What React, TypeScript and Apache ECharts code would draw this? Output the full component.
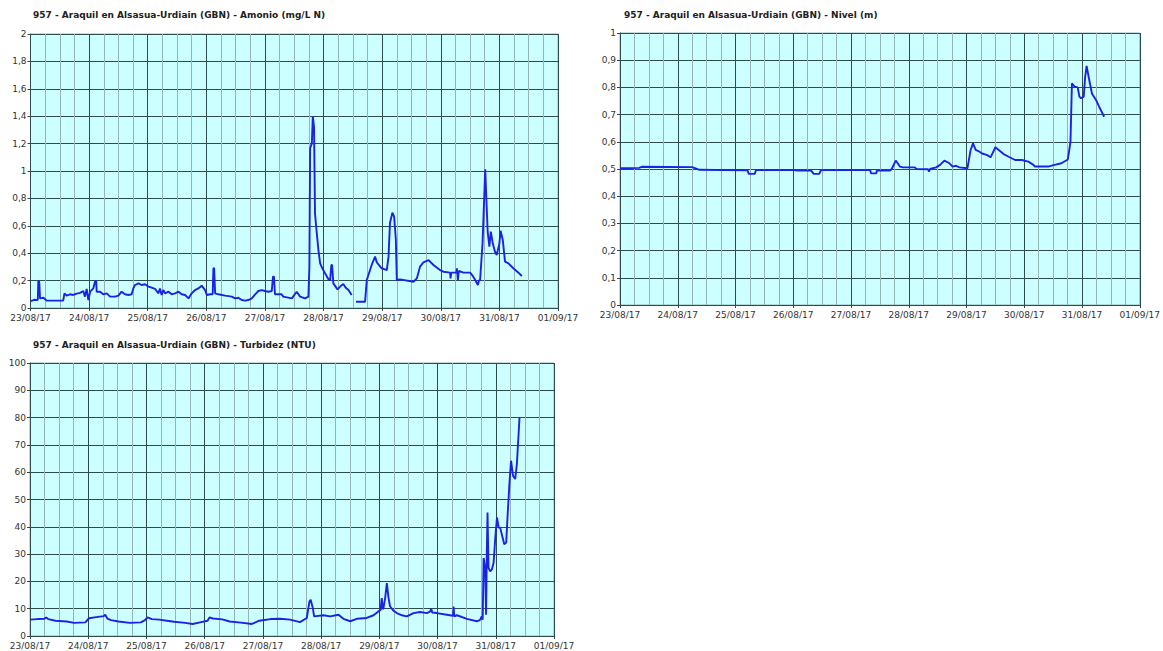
import React, { useEffect, useRef } from "react";
import * as echarts from "echarts";

// Tick labels (one per day, x values are hours since 23/08/17 00:00)
const DAY_LABELS = ["23/08/17", "24/08/17", "25/08/17", "26/08/17", "27/08/17", "28/08/17", "29/08/17", "30/08/17", "31/08/17", "01/09/17"];

const TITLES = [
  "957 - Araquil en Alsasua-Urdiain (GBN) - Amonio (mg/L N)",
  "957 - Araquil en Alsasua-Urdiain (GBN) - Nivel (m)",
  "957 - Araquil en Alsasua-Urdiain (GBN) - Turbidez (NTU)",
];

// Amonio (mg/L N): [hour, value]
const AMONIO: (number | string)[][] = [
  [0, 0.05], [1.5, 0.06], [2.5, 0.058], [3.0, 0.06], [3.2, 0.197], [3.6, 0.19], [3.9, 0.07], [5.3, 0.075], [6.6, 0.054], [13.4, 0.054],
  [13.9, 0.107], [14.8, 0.09], [16.2, 0.1], [17.5, 0.095], [18.9, 0.105], [20.3, 0.11], [21.6, 0.124], [22.3, 0.083], [23.0, 0.139], [23.7, 0.058],
  [24.4, 0.119], [25.7, 0.143], [26.5, 0.197], [26.9, 0.197], [27.1, 0.119], [28.5, 0.119], [29.8, 0.1], [31.2, 0.107], [32.6, 0.083], [34.6, 0.083],
  [36.0, 0.09], [37.3, 0.119], [38.7, 0.1], [40.1, 0.095], [41.4, 0.1], [42.1, 0.143], [42.8, 0.168], [44.2, 0.18], [45.5, 0.168], [46.9, 0.173],
  [48.3, 0.156], [49.6, 0.148], [51.0, 0.139], [52.4, 0.107], [53.0, 0.143], [53.7, 0.095], [54.4, 0.131], [55.1, 0.107], [56.5, 0.119], [57.8, 0.1],
  [59.2, 0.107], [60.6, 0.119], [61.9, 0.1], [63.3, 0.095], [64.7, 0.07], [66.0, 0.107], [67.4, 0.131], [68.7, 0.143], [70.1, 0.163], [71.5, 0.131],
  [72.2, 0.095], [73.5, 0.1], [74.6, 0.1], [74.9, 0.29], [75.2, 0.29], [75.6, 0.107], [76.9, 0.1], [79.7, 0.09], [82.4, 0.083], [83.8, 0.07],
  [85.1, 0.075], [86.5, 0.058], [87.9, 0.054], [89.2, 0.058], [90.6, 0.07], [92.0, 0.1], [93.3, 0.124], [94.7, 0.131], [96.0, 0.124], [97.4, 0.119],
  [98.8, 0.124], [99.3, 0.229], [99.7, 0.229], [100.1, 0.1], [102.8, 0.1], [103.5, 0.083], [107, 0.07], [109, 0.119], [110.4, 0.083], [112.4, 0.07],
  [113.8, 0.083], [114.2, 0.3], [114.5, 1.166], [115.2, 1.2], [115.6, 1.4], [116.1, 1.32], [116.5, 0.69], [117.2, 0.55], [117.9, 0.423], [118.6, 0.326],
  [119.5, 0.29], [120.6, 0.253], [122.0, 0.21], [122.7, 0.204], [123.2, 0.314], [123.5, 0.314], [124.0, 0.18], [125.7, 0.136], [127, 0.16], [128.1, 0.175],
  [129, 0.15], [130.2, 0.131], [131.5, 0.095], [132.3, "-"], [133.3, 0.046], [137.0, 0.046], [137.7, 0.204], [139.7, 0.314], [141.1, 0.375], [141.8, 0.333],
  [143.8, 0.29], [145.9, 0.277], [146.6, 0.375], [147.2, 0.62], [148.2, 0.696], [148.9, 0.667], [149.6, 0.5], [150.0, 0.204], [151.3, 0.209], [156.8, 0.192],
  [158.2, 0.216], [159.5, 0.302], [160.9, 0.333], [163.0, 0.35], [165.0, 0.314], [167.7, 0.277], [169.1, 0.265], [171.8, 0.258], [172.0, 0.216], [172.3, 0.258],
  [174.4, 0.258], [174.6, 0.29], [175.0, 0.204], [175.4, 0.27], [177.3, 0.258], [180.0, 0.258], [181.1, 0.234], [182.1, 0.204], [183.2, 0.168], [183.6, 0.2],
  [184.1, 0.204], [185.1, 0.472], [186.2, 1.012], [186.8, 0.739], [187.2, 0.557], [187.9, 0.448], [188.5, 0.557], [189.3, 0.47], [190.2, 0.411], [190.9, 0.387],
  [192.0, 0.47], [192.5, 0.564], [193.4, 0.496], [194.3, 0.338], [195.7, 0.326], [197.7, 0.29], [199.8, 0.258], [201.2, 0.234],
];

// Nivel (m): [hour, value]
const NIVEL: number[][] = [
  [0, 0.503], [8, 0.504], [9, 0.508], [30, 0.507], [33, 0.497], [53, 0.495], [53.5, 0.482], [56, 0.482], [56.5, 0.496], [72, 0.496],
  [73.9, 0.494], [79.4, 0.494], [80.5, 0.482], [82.8, 0.482], [83.5, 0.496], [104, 0.496], [104.3, 0.484], [106.5, 0.484], [106.7, 0.494], [112.2, 0.494],
  [112.9, 0.5], [114.6, 0.531], [116.3, 0.509], [117.7, 0.506], [122.5, 0.506], [123.2, 0.5], [128, 0.499], [128.4, 0.49], [128.8, 0.5], [131.4, 0.506],
  [133.0, 0.515], [134.8, 0.531], [136.9, 0.521], [138.2, 0.509], [139.6, 0.512], [141.0, 0.506], [144.4, 0.503], [145.7, 0.57], [146.7, 0.594], [147.8, 0.57],
  [148.9, 0.566], [150.5, 0.557], [152.6, 0.551], [154.0, 0.543], [156.0, 0.58], [157.4, 0.57], [159.4, 0.555], [161.5, 0.545], [164.2, 0.533], [167.0, 0.533],
  [169.7, 0.527], [171.8, 0.515], [172.4, 0.509], [177.9, 0.509], [180.6, 0.515], [183.4, 0.521], [186.1, 0.535], [187.2, 0.6], [187.8, 0.815], [188.9, 0.803],
  [190.2, 0.8], [190.9, 0.766], [191.6, 0.76], [192.7, 0.766], [193.3, 0.839], [193.9, 0.879], [195.0, 0.827], [196.1, 0.778], [197.8, 0.754], [199.1, 0.729],
  [201.2, 0.692],
];

// Turbidez (NTU): [hour, value]
const TURBIDEZ: number[][] = [
  [0, 6.0], [3, 6.2], [5.9, 6.3], [6.7, 6.8], [7.5, 6.2], [10.5, 5.6], [15.1, 5.3], [18.2, 4.8], [22.8, 5.0], [24.3, 6.5],
  [27.3, 6.9], [30.4, 7.3], [31.0, 7.8], [31.9, 6.4], [33.4, 5.8], [36.5, 5.3], [41.1, 4.8], [45.7, 5.0], [47.2, 5.7], [48.5, 6.8],
  [50.2, 6.2], [53.3, 6.0], [56.4, 5.6], [59.4, 5.2], [64.0, 4.8], [67.0, 4.4], [70.1, 5.0], [73.2, 5.6], [74, 6.8], [75.4, 6.4],
  [79.3, 6.1], [82.3, 5.3], [86.9, 4.9], [91.5, 4.4], [94.5, 5.6], [99.1, 6.2], [103.1, 6.3], [107.2, 6.0], [111.3, 5.1], [114.1, 6.6],
  [115.2, 12.7], [115.7, 13.3], [116.6, 10.2], [117.1, 7.2], [121, 7.6], [123.7, 7.2], [127.2, 7.8], [129.2, 6.3], [132.0, 5.4], [134.7, 6.3],
  [138.8, 6.6], [141.6, 7.6], [143.6, 9.0], [144.5, 9.5], [145.0, 13.9], [145.4, 9.8], [145.7, 10.2], [146.4, 13.9], [147.1, 19.4], [147.8, 13.9],
  [148.4, 10.9], [149.8, 9.3], [151.2, 8.4], [153.3, 7.6], [155.3, 7.2], [158.1, 8.4], [160.8, 8.8], [163.6, 8.4], [165.0, 9.0], [165.4, 10.0],
  [165.8, 8.6], [167.7, 8.4], [171.8, 7.8], [174.4, 7.4], [174.6, 10.8], [174.9, 7.2], [176.0, 7.6], [180.1, 6.3], [184.2, 5.4], [184.9, 5.6],
  [185.6, 6.0], [186.2, 7.2], [186.6, 6.0], [187.0, 28.6], [187.6, 25.0], [188.0, 7.8], [188.3, 30], [188.6, 45.2], [189.0, 25.0], [189.7, 23.7],
  [190.4, 24.4], [191.1, 26.8], [191.8, 36.0], [192.5, 43.4], [193.2, 39.7], [193.8, 39.7], [194.5, 37.2], [195.5, 33.6], [196.3, 34.2], [196.9, 44.6],
  [197.7, 56.9], [198.3, 64.2], [199.1, 58.7], [200.0, 57.5], [200.7, 63.0], [201.4, 74.0], [201.8, 80.2],
];

const Y_MAX = [2, 1, 100];
const Y_STEP = [0.2, 0.1, 10];

const MAJOR = "#2e4c4c";
const MINOR = "#93b5b5";
const BG = "#ccffff";
const LINE = "#1a22e6";
const FONT = "DejaVu Sans";

export default function App() {
  const ref = useRef<HTMLDivElement>(null);
  useEffect(() => {
    if (!ref.current) return;
    const chart = echarts.init(ref.current, undefined, { renderer: "svg" });
    const grids = [
      { left: 30.5, top: 34, width: 527.5, height: 274 },
      { left: 620, top: 33, width: 526, height: 272 },
      { left: 30, top: 363, width: 524, height: 273 },
    ];
    const titlePos = [
      { left: 33, top: 10 },
      { left: 624, top: 10 },
      { left: 33, top: 340 },
    ];
    const fmtY = (v: number) => String(+v.toFixed(2)).replace(".", ",");
    const option: any = {
      animation: false,
      backgroundColor: "#ffffff",
      title: TITLES.map((t, i) => ({
        text: t,
        left: titlePos[i].left,
        top: titlePos[i].top,
        padding: 0,
        textStyle: { fontFamily: FONT, fontSize: 9, fontWeight: "bold", color: "#222" },
      })),
      grid: grids.map((g) => ({
        ...g,
        show: true,
        backgroundColor: BG,
        borderColor: MINOR,
        borderWidth: 1,
      })),
      xAxis: grids.map((_, i) => ({
        type: "value",
        gridIndex: i,
        min: 0,
        max: 216,
        interval: 24,
        axisLine: { show: true, onZero: false, lineStyle: { color: MAJOR, width: 1 } },
        axisTick: { show: true, length: 3, lineStyle: { color: MAJOR } },
        axisLabel: {
          formatter: (v: number) => DAY_LABELS[Math.round(v / 24)],
          fontFamily: FONT,
          fontSize: 9,
          color: "#333",
          margin: 5,
          showMinLabel: true,
          showMaxLabel: true,
        },
        splitLine: { show: true, lineStyle: { color: MAJOR, width: 1 } },
        minorTick: { show: false, splitNumber: 4 },
        minorSplitLine: { show: true, lineStyle: { color: MINOR, width: 1 } },
      })),
      yAxis: grids.map((_, i) => ({
        type: "value",
        gridIndex: i,
        min: 0,
        max: Y_MAX[i],
        interval: Y_STEP[i],
        axisLine: { show: true, lineStyle: { color: MAJOR, width: 1 } },
        axisTick: { show: true, length: 3, lineStyle: { color: MAJOR } },
        axisLabel: { formatter: fmtY, fontFamily: FONT, fontSize: 9, color: "#333", margin: 4 },
        splitLine: { show: true, lineStyle: { color: MAJOR, width: 1 } },
      })),
      series: [AMONIO, NIVEL, TURBIDEZ].map((d, i) => ({
        type: "line",
        xAxisIndex: i,
        yAxisIndex: i,
        data: d,
        showSymbol: false,
        connectNulls: false,
        lineStyle: { color: LINE, width: 1.9 },
        itemStyle: { color: LINE },
      })),
    };
    chart.setOption(option);
    return () => chart.dispose();
  }, []);
  return (
    <div style={{ position: "fixed", left: 0, top: 0, width: 1163, height: 651, background: "#fff" }}>
      <div ref={ref} style={{ width: 1163, height: 651 }} />
    </div>
  );
}
